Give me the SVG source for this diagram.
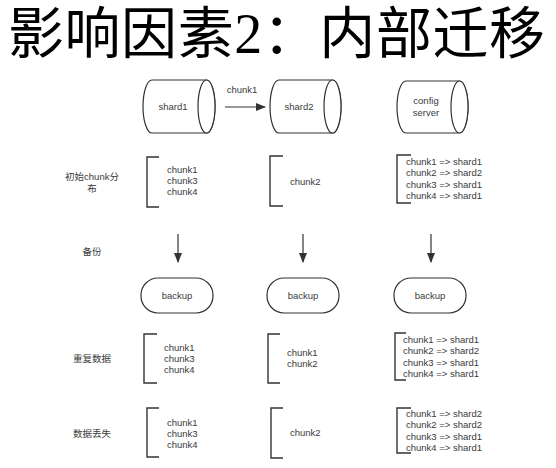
<svg xmlns="http://www.w3.org/2000/svg" width="556" height="468" viewBox="0 0 556 468">
<defs>
<marker id="ah" markerWidth="10" markerHeight="8" refX="9" refY="4" orient="auto" markerUnits="userSpaceOnUse">
<path d="M0,0 L10,4 L0,8 Z" fill="#333"/>
</marker>
<style>
.sh{fill:#fff;stroke:#333;stroke-width:1.2}
.br{fill:none;stroke:#333;stroke-width:1.4}
.t{font-family:"Liberation Sans","Noto Sans CJK SC",sans-serif;font-size:9.5px;fill:#3a3a3a}
.c{text-anchor:middle}
.lb{font-family:"Liberation Sans","Noto Sans CJK SC",sans-serif;font-size:9.5px;fill:#3a3a3a;text-anchor:middle}
.ln{stroke:#333;stroke-width:1.2;fill:none}
</style>
</defs>
<rect width="556" height="468" fill="#fff"/>
<text x="8" y="53" font-family="Liberation Serif, Noto Sans CJK SC, serif" font-size="56" fill="#000" textLength="537" lengthAdjust="spacing">影响因素2：内部迁移</text>

<g id="shard1">
<path class="sh" d="M152,80 L206.5,80 A8.5,26.5 0 0 1 206.5,133 L152,133 A9,26.5 0 0 1 152,80 Z"/>
<ellipse class="sh" cx="206.5" cy="106.5" rx="8.5" ry="26.5"/>
<text class="t c" x="173" y="110">shard1</text>
</g>
<g id="shard2">
<path class="sh" d="M279,80 L332.5,80 A8.5,26.5 0 0 1 332.5,133 L279,133 A9,26.5 0 0 1 279,80 Z"/>
<ellipse class="sh" cx="332.5" cy="106.5" rx="8.5" ry="26.5"/>
<text class="t c" x="299" y="110">shard2</text>
</g>
<g id="config-server">
<path class="sh" d="M406,81 L459.5,81 A8.5,26 0 0 1 459.5,133 L406,133 A9,26 0 0 1 406,81 Z"/>
<ellipse class="sh" cx="459.5" cy="107" rx="8.5" ry="26"/>
<text class="t c" x="426" y="104">config</text>
<text class="t c" x="426" y="116">server</text>
</g>

<g id="connectors">
<line class="ln" x1="225" y1="107" x2="265" y2="107" marker-end="url(#ah)"/>
<text class="t c" x="242" y="93">chunk1</text>
<line class="ln" x1="178" y1="234" x2="178" y2="262" marker-end="url(#ah)"/>
<line class="ln" x1="303" y1="234" x2="303" y2="262" marker-end="url(#ah)"/>
<line class="ln" x1="431" y1="234" x2="431" y2="262" marker-end="url(#ah)"/>
</g>

<g id="labels">
<text class="lb" x="92" y="180">初始chunk分</text>
<text class="lb" x="92" y="192">布</text>
<text class="lb" x="92" y="255">备份</text>
<text class="lb" x="92" y="362">重复数据</text>
<text class="lb" x="92" y="437">数据丢失</text>
</g>

<g id="row1-col1">
<path class="br" d="M159,157 L147,157 L147,207 L159,207"/>
<text class="t" x="167" y="173">chunk1</text>
<text class="t" x="167" y="184">chunk3</text>
<text class="t" x="167" y="195">chunk4</text>
</g>
<g id="row1-col2">
<path class="br" d="M283,156 L270,156 L270,206 L283,206"/>
<text class="t" x="290" y="185">chunk2</text>
</g>
<g id="row1-col3">
<path class="br" d="M411,155 L397,155 L397,203 L411,203"/>
<text class="t" x="406" y="165">chunk1 =&gt; shard1</text>
<text class="t" x="406" y="176">chunk2 =&gt; shard2</text>
<text class="t" x="406" y="187.5">chunk3 =&gt; shard1</text>
<text class="t" x="406" y="199">chunk4 =&gt; shard1</text>
</g>

<g id="backup1">
<rect class="sh" x="141" y="278" width="72" height="35" rx="17"/>
<text class="t c" x="177" y="298.5">backup</text>
</g>
<g id="backup2">
<rect class="sh" x="267" y="278" width="72" height="35" rx="17"/>
<text class="t c" x="303" y="298.5">backup</text>
</g>
<g id="backup3">
<rect class="sh" x="394" y="278" width="72" height="35" rx="17"/>
<text class="t c" x="430" y="298.5">backup</text>
</g>

<g id="row3-col1">
<path class="br" d="M157,334 L144,334 L144,383 L157,383"/>
<text class="t" x="164" y="351">chunk1</text>
<text class="t" x="164" y="362">chunk3</text>
<text class="t" x="164" y="373">chunk4</text>
</g>
<g id="row3-col2">
<path class="br" d="M280,334 L268,334 L268,383 L280,383"/>
<text class="t" x="287" y="356">chunk1</text>
<text class="t" x="287" y="367">chunk2</text>
</g>
<g id="row3-col3">
<path class="br" d="M406,333 L395,333 L395,380 L406,380"/>
<text class="t" x="403" y="343">chunk1 =&gt; shard1</text>
<text class="t" x="403" y="354">chunk2 =&gt; shard2</text>
<text class="t" x="403" y="366">chunk3 =&gt; shard1</text>
<text class="t" x="403" y="377">chunk4 =&gt; shard1</text>
</g>

<g id="row4-col1">
<path class="br" d="M159,408 L147,408 L147,457 L159,457"/>
<text class="t" x="167" y="426">chunk1</text>
<text class="t" x="167" y="437">chunk3</text>
<text class="t" x="167" y="448">chunk4</text>
</g>
<g id="row4-col2">
<path class="br" d="M283,408 L271,408 L271,458 L283,458"/>
<text class="t" x="290" y="436">chunk2</text>
</g>
<g id="row4-col3">
<path class="br" d="M411,408 L397,408 L397,453 L411,453"/>
<text class="t" x="406" y="417">chunk1 =&gt; shard2</text>
<text class="t" x="406" y="428">chunk2 =&gt; shard2</text>
<text class="t" x="406" y="440">chunk3 =&gt; shard1</text>
<text class="t" x="406" y="451">chunk4 =&gt; shard1</text>
</g>
</svg>
